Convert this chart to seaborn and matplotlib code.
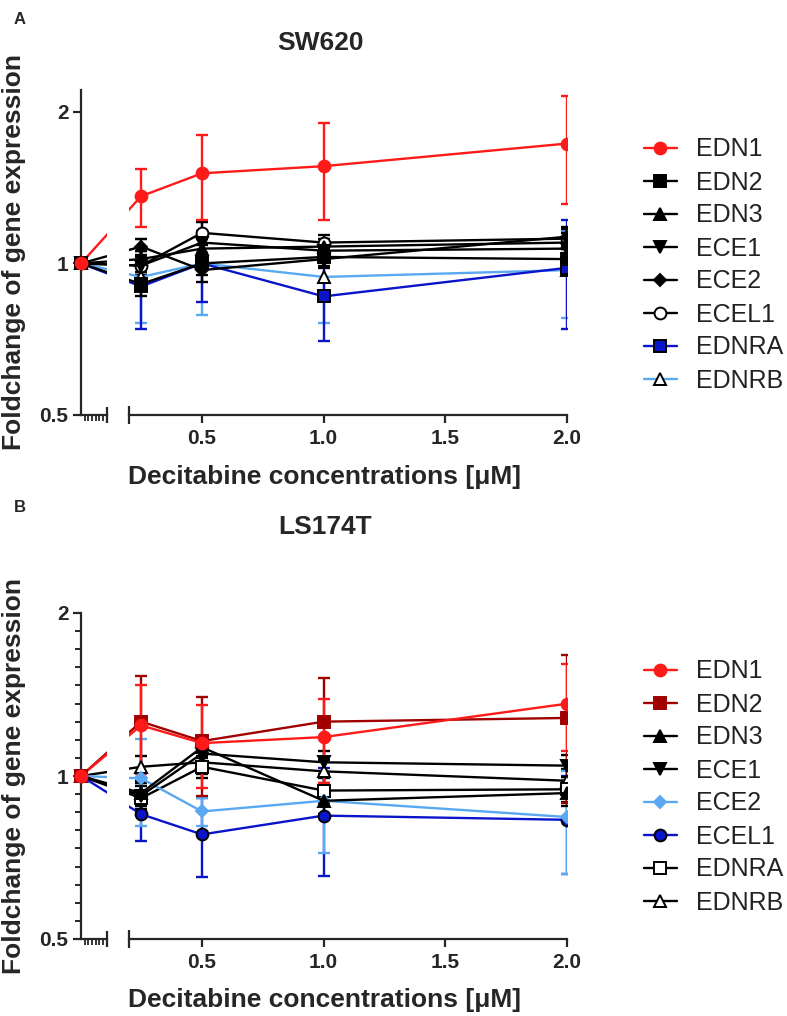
import numpy as np
import matplotlib
matplotlib.use('agg')
import matplotlib.pyplot as plt
from matplotlib.lines import Line2D
from matplotlib.ticker import NullFormatter
import seaborn as sns

# data #
conc = [0, 0.25, 0.5, 1.0, 2.0]
xticks = [0.5, 1.0, 1.5, 2.0]
xtick_labels = ['0.5', '1.0', '1.5', '2.0']
yticks = [0.5, 1, 2]
ytick_labels = ['0.5', '1', '2']
genes = ['EDN1', 'EDN2', 'EDN3', 'ECE1', 'ECE2', 'ECEL1', 'EDNRA', 'EDNRB']

# SW620, rows follow genes, columns follow conc
sw620_mean = np.array([
    [1, 1.36, 1.51, 1.56, 1.73],
    [1, 0.91, 1.00, 1.03, 1.02],
    [1, 1.02, 1.07, 1.08, 1.10],
    [1, 0.99, 1.10, 1.06, 1.07],
    [1, 1.08, 0.97, 1.02, 1.13],
    [1, 0.99, 1.15, 1.10, 1.12],
    [1, 0.90, 1.00, 0.86, 0.98],
    [1, 0.94, 1.00, 0.94, 0.97],
])
sw620_sd = np.array([
    [0, 0.18, 0.29, 0.34, 0.42],
    [0, 0.05, 0.05, 0.04, 0.05],
    [0, 0.04, 0.05, 0.04, 0.05],
    [0, 0.04, 0.05, 0.04, 0.05],
    [0, 0.04, 0.05, 0.04, 0.05],
    [0, 0.04, 0.06, 0.04, 0.05],
    [0, 0.16, 0.16, 0.16, 0.24],
    [0, 0.18, 0.21, 0.18, 0.19],
])

# LS174T
ls174t_mean = np.array([
    [1, 1.24, 1.15, 1.18, 1.36],
    [1, 1.26, 1.16, 1.26, 1.28],
    [1, 0.93, 1.13, 0.90, 0.93],
    [1, 0.92, 1.10, 1.06, 1.045],
    [1, 0.99, 0.86, 0.90, 0.84],
    [1, 0.85, 0.78, 0.845, 0.83],
    [1, 0.91, 1.04, 0.94, 0.945],
    [1, 1.04, 1.06, 1.02, 0.98],
])
ls174t_sd = np.array([
    [0, 0.23, 0.20, 0.21, 0.25],
    [0, 0.27, 0.24, 0.26, 0.39],
    [0, 0.05, 0.05, 0.05, 0.05],
    [0, 0.05, 0.05, 0.05, 0.05],
    [0, 0.18, 0.05, 0.18, 0.18],
    [0, 0.09, 0.13, 0.19, 0.17],
    [0, 0.05, 0.05, 0.05, 0.05],
    [0, 0.05, 0.05, 0.05, 0.05],
])

# styles #
RED = '#ff1a1a'
DRED = '#a00000'
BLUE = '#0a14c8'
LBLUE = '#5aa8f2'
BLK = '#000000'

sw_style = [  # line colour, marker, face, edge
    (RED, 'o', RED, RED),
    (BLK, 's', BLK, BLK),
    (BLK, '^', BLK, BLK),
    (BLK, 'v', BLK, BLK),
    (BLK, 'D', BLK, BLK),
    (BLK, 'o', 'white', BLK),
    (BLUE, 's', BLUE, BLK),
    (LBLUE, '^', 'white', BLK),
]
ls_style = [
    (RED, 'o', RED, RED),
    (DRED, 's', DRED, DRED),
    (BLK, '^', BLK, BLK),
    (BLK, 'v', BLK, BLK),
    (LBLUE, 'D', LBLUE, LBLUE),
    (BLUE, 'o', BLUE, BLK),
    (BLK, 's', 'white', BLK),
    (BLK, '^', 'white', BLK),
]
msizes = {'o': 8.5, 's': 8, '^': 8.5, 'v': 8.5, 'D': 6}

sns.set_style('ticks')
plt.rcParams['font.family'] = ['Liberation Sans', 'DejaVu Sans']

W, H = 787, 1016
fig = plt.figure(figsize=(W / 100, H / 100), dpi=100)

X0_END = 0.107


def fx(px):
    return px / W


def fy(py):
    return 1 - py / H


def draw_panel(top, bottom, ytop, means, sds, styles, minor_y):
    ax0 = fig.add_axes([fx(81), fy(bottom), fx(107 - 81), (bottom - top) / H])
    ax1 = fig.add_axes([fx(129), fy(bottom), fx(567 - 129), (bottom - top) / H])
    for ax in (ax0, ax1):
        ax.set_yscale('log')
        ax.set_ylim(0.5, ytop)
        ax.patch.set_alpha(0)
    ax0.set_xlim(0, X0_END)
    ax1.set_xlim(0.2, 2.0)

    n = len(genes)
    for i in reversed(range(n)):
        col, mk, fc, ec = styles[i]
        z = 3 + (n - i) * 0.1
        ms = msizes[mk]
        sns.lineplot(x=conc, y=means[i], ax=ax1, color=col, lw=1.7, marker=mk,
                     ms=ms, markerfacecolor=fc, markeredgecolor=ec,
                     markeredgewidth=1.4, errorbar=None, zorder=z + 1)
        ax1.errorbar(conc[1:], means[i][1:], yerr=sds[i][1:], fmt='none',
                     ecolor=col, elinewidth=1.7, capsize=4.5, capthick=1.7,
                     zorder=z)
        sns.lineplot(x=conc, y=means[i], ax=ax0, color=col, lw=1.7,
                     errorbar=None, zorder=z)
        ax0.plot(conc[:1], means[i][:1], ls='none', marker=mk, ms=ms,
                 markerfacecolor=fc, markeredgecolor=ec, markeredgewidth=1.4,
                 clip_on=False, zorder=z + 10)

    for ax in (ax0, ax1):
        ax.set_xlabel('')
        ax.set_ylabel('')
        ax.spines['top'].set_visible(False)
        ax.spines['right'].set_visible(False)
        ax.spines['bottom'].set_linewidth(1.6)
    ax1.spines['left'].set_visible(False)
    ax0.spines['left'].set_linewidth(1.6)

    # y axis
    ax0.set_yticks(yticks)
    ax0.set_yticklabels(ytick_labels, fontsize=15, fontweight='bold')
    if minor_y:
        k = np.arange(-9, 10)
        k = k[k % 9 != 0]
        ax0.set_yticks(2.0 ** (k / 9.0), minor=True)
        ax0.tick_params(axis='y', which='minor', length=4, width=1.4)
    else:
        ax0.set_yticks([], minor=True)
    ax0.yaxis.set_minor_formatter(NullFormatter())
    ax0.tick_params(axis='y', which='major', length=6, width=1.6, pad=3)
    ax1.set_yticks([])
    ax1.set_yticks([], minor=True)

    # x axes
    ax0.set_xticks([X0_END])
    ax0.set_xticklabels([''])
    ax0.set_xticks(np.arange(0.015, 0.1, 0.015), minor=True)
    ax0.xaxis.set_minor_formatter(NullFormatter())
    ax0.tick_params(axis='x', which='major', direction='inout', length=11, width=1.6)
    ax0.tick_params(axis='x', which='minor', direction='out', length=4, width=1.3)

    ax1.set_xticks(xticks)
    ax1.set_xticklabels(xtick_labels, fontsize=15, fontweight='bold')
    ax1.set_xticks([0.2], minor=True)
    ax1.xaxis.set_minor_formatter(NullFormatter())
    ax1.tick_params(axis='x', which='major', length=6, width=1.6, pad=4)
    ax1.tick_params(axis='x', which='minor', direction='inout', length=13, width=1.6)
    return ax0, ax1


def add_legend(styles, first_row):
    handles = []
    for (col, mk, fc, ec), g in zip(styles, genes):
        handles.append(Line2D([], [], color=col, lw=1.7, marker=mk, ms=msizes[mk],
                              markerfacecolor=fc, markeredgecolor=ec,
                              markeredgewidth=1.4, label=g))
    fig.legend(handles=handles, loc='upper left', frameon=False,
               bbox_to_anchor=(fx(631), fy(first_row - 13)), borderpad=0,
               fontsize=18, handlelength=1.35, handletextpad=0.75,
               labelspacing=0.36, labelcolor='#222222')


# panel A
draw_panel(90, 415, 2.21, sw620_mean, sw620_sd, sw_style, False)
add_legend(sw_style, 138)
fig.text(fx(14), fy(20), 'A', fontsize=12, fontweight='bold', ha='left', va='center')
fig.text(fx(320), fy(43), 'SW620', fontsize=19, fontweight='bold', ha='center', va='center')
fig.text(fx(325), fy(477), 'Decitabine concentrations [μM]', fontsize=19,
         fontweight='bold', ha='center', va='center')
fig.text(fx(14), fy(252), 'Foldchange of gene expression', fontsize=19,
         fontweight='bold', rotation=90, ha='center', va='center')

# panel B
draw_panel(613, 939, 2.0, ls174t_mean, ls174t_sd, ls_style, True)
add_legend(ls_style, 660)
fig.text(fx(14), fy(508), 'B', fontsize=12, fontweight='bold', ha='left', va='center')
fig.text(fx(325), fy(527), 'LS174T', fontsize=19, fontweight='bold', ha='center', va='center')
fig.text(fx(325), fy(1000), 'Decitabine concentrations [μM]', fontsize=19,
         fontweight='bold', ha='center', va='center')
fig.text(fx(14), fy(776), 'Foldchange of gene expression', fontsize=19,
         fontweight='bold', rotation=90, ha='center', va='center')

plt.savefig('out.png', dpi=100)
plt.close()
